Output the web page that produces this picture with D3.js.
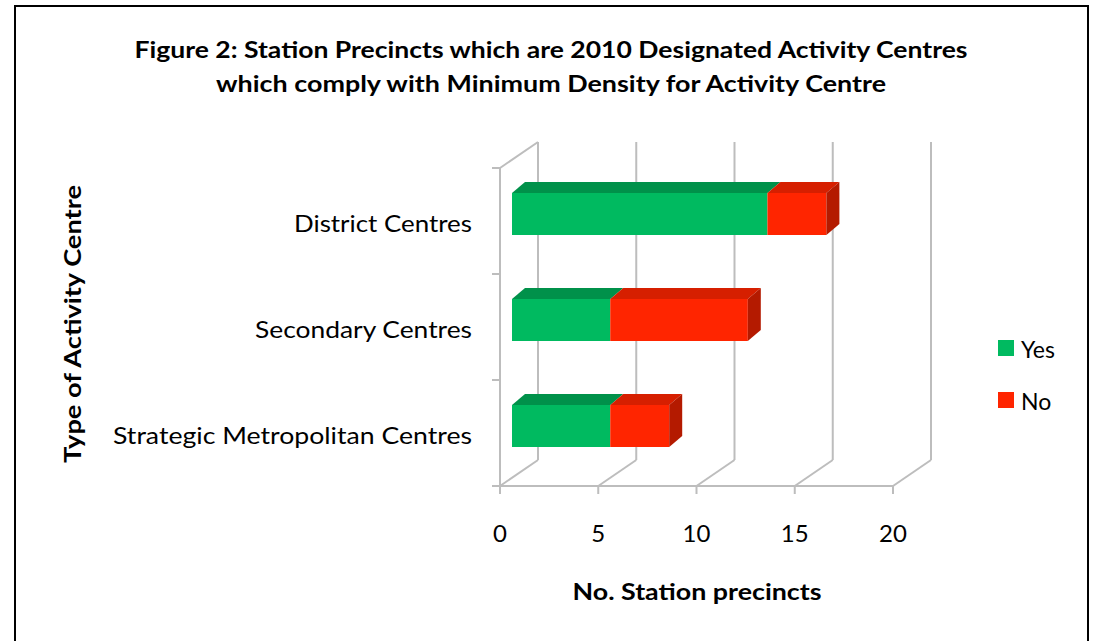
<!DOCTYPE html>
<html>
<head>
<meta charset="utf-8">
<script src="https://cdn.jsdelivr.net/npm/d3@7"></script>
<style>
  html, body { margin: 0; padding: 0; background: #fff; }
  svg { display: block; }
  text { font-family: Lato, "Open Sans", sans-serif; fill: #000; }
</style>
</head>
<body>
<svg id="chart" width="1093" height="641"></svg>
<script>
// Station precincts per activity-centre type
const categories = ["District Centres", "Secondary Centres", "Strategic Metropolitan Centres"];
const seriesNames = ["Yes", "No"];
const yesValues = [13, 5, 5];
const noValues = [3, 7, 3];
const xTicks = [0, 5, 10, 15, 20];

const svg = d3.select("#chart");

// Outer frame
svg.append("rect")
  .attr("x", 15).attr("y", 6)
  .attr("width", 1073).attr("height", 650)
  .attr("fill", "#fff").attr("stroke", "#000").attr("stroke-width", 2);

// Front plane scales; the back wall sits one depth step behind
const x = d3.scaleLinear().domain([0, 20]).range([500, 893]);
const y = d3.scaleBand().domain(categories).range([168, 486]);
const depth = { dx: 38, dy: -26 };
const barOffset = 12;           // bars start a little behind the front plane
const barExtrude = { dx: 13, dy: -11 };
const barTop = 25, barHeight = 42;

const grid = "#bdbdbd";
const g = svg.append("g");

// Back wall gridlines and floor diagonals
xTicks.forEach(t => {
  const fx = x(t);
  g.append("line")
    .attr("x1", fx + depth.dx).attr("y1", 142)
    .attr("x2", fx + depth.dx).attr("y2", 486 + depth.dy)
    .attr("stroke", grid).attr("stroke-width", 2);
  g.append("line")
    .attr("x1", fx).attr("y1", 486)
    .attr("x2", fx + depth.dx).attr("y2", 486 + depth.dy)
    .attr("stroke", grid).attr("stroke-width", 2);
  // tick below the floor
  g.append("line")
    .attr("x1", fx).attr("y1", 486)
    .attr("x2", fx).attr("y2", 494)
    .attr("stroke", grid).attr("stroke-width", 2);
});

// Left wall front edge, top diagonal and category ticks
g.append("line")
  .attr("x1", x(0)).attr("y1", 168).attr("x2", x(0)).attr("y2", 486)
  .attr("stroke", grid).attr("stroke-width", 2);
g.append("line")
  .attr("x1", x(0)).attr("y1", 168)
  .attr("x2", x(0) + depth.dx).attr("y2", 168 + depth.dy)
  .attr("stroke", grid).attr("stroke-width", 2);
const catEdges = [168].concat(categories.map(c => y(c) + y.bandwidth()));
catEdges.forEach(v => {
  g.append("line")
    .attr("x1", x(0) - 8).attr("y1", v).attr("x2", x(0)).attr("y2", v)
    .attr("stroke", grid).attr("stroke-width", 2);
});
// Floor front edge
g.append("line")
  .attr("x1", x(0)).attr("y1", 486).attr("x2", x(20)).attr("y2", 486)
  .attr("stroke", grid).attr("stroke-width", 2);

// Stacked series
const colors = {
  Yes: { front: "#00ba60", top: "#00914a", side: "#009a4f" },
  No:  { front: "#ff2500", top: "#d61f00", side: "#b41a00" }
};
const rows = categories.map((c, i) => ({ cat: c, Yes: yesValues[i], No: noValues[i] }));
const stacked = d3.stack().keys(seriesNames)(rows);

const bars = svg.append("g");
stacked.forEach(layer => {
  const key = layer.key;
  const col = colors[key];
  layer.forEach((d, i) => {
    const cat = categories[i];
    const x0 = x(d[0]) + barOffset, x1 = x(d[1]) + barOffset;
    const y0 = y(cat) + barTop, y1 = y0 + barHeight;
    const ex = barExtrude.dx, ey = barExtrude.dy;
    // top face
    bars.append("path")
      .attr("d", `M${x0},${y0}L${x0 + ex},${y0 + ey}L${x1 + ex},${y0 + ey}L${x1},${y0}Z`)
      .attr("fill", col.top);
    // front face
    bars.append("rect")
      .attr("x", x0).attr("y", y0)
      .attr("width", x1 - x0).attr("height", barHeight)
      .attr("fill", col.front);
    // right side face on the last segment
    if (key === seriesNames[seriesNames.length - 1]) {
      bars.append("path")
        .attr("d", `M${x1},${y0}L${x1 + ex},${y0 + ey}L${x1 + ex},${y1 + ey}L${x1},${y1}Z`)
        .attr("fill", col.side);
    }
  });
});

// Tick labels
svg.append("g").selectAll("text").data(xTicks).join("text")
  .attr("x", d => x(d)).attr("y", 542)
  .attr("text-anchor", "middle")
  .attr("font-size", 24)
  .text(d => d);

// Category labels
const labelWidths = [178, 217, 359];
svg.append("g").selectAll("text").data(categories).join("text")
  .attr("x", 472)
  .attr("y", d => y(d) + y.bandwidth() / 2 + 11)
  .attr("text-anchor", "end")
  .attr("font-size", 23)
  .attr("textLength", (d, i) => labelWidths[i])
  .attr("lengthAdjust", "spacingAndGlyphs")
  .text(d => d);

// Title
const title = [
  "Figure 2: Station Precincts which are 2010 Designated Activity Centres",
  "which comply with Minimum Density for Activity Centre"
];
const titleWidths = [833, 670];
svg.append("g").selectAll("text").data(title).join("text")
  .attr("x", 551).attr("y", (d, i) => 58 + i * 34)
  .attr("text-anchor", "middle")
  .attr("font-size", 22).attr("font-weight", "bold")
  .attr("textLength", (d, i) => titleWidths[i])
  .attr("lengthAdjust", "spacingAndGlyphs")
  .text(d => d);

// Axis titles
svg.append("text")
  .attr("x", 697).attr("y", 600)
  .attr("text-anchor", "middle")
  .attr("font-size", 22).attr("font-weight", "bold")
  .attr("textLength", 249).attr("lengthAdjust", "spacingAndGlyphs")
  .text("No. Station precincts");
svg.append("text")
  .attr("transform", "translate(81,324) rotate(-90)")
  .attr("text-anchor", "middle")
  .attr("font-size", 22).attr("font-weight", "bold")
  .attr("textLength", 278).attr("lengthAdjust", "spacingAndGlyphs")
  .text("Type of Activity Centre");

// Legend
const legend = svg.append("g");
seriesNames.forEach((s, i) => {
  const ly = 340 + i * 52;
  legend.append("rect")
    .attr("x", 998).attr("y", ly).attr("width", 16).attr("height", 16)
    .attr("fill", colors[s].front);
  legend.append("text")
    .attr("x", 1021).attr("y", ly + 18)
    .attr("font-size", 23)
    .text(s);
});
</script>
</body>
</html>
